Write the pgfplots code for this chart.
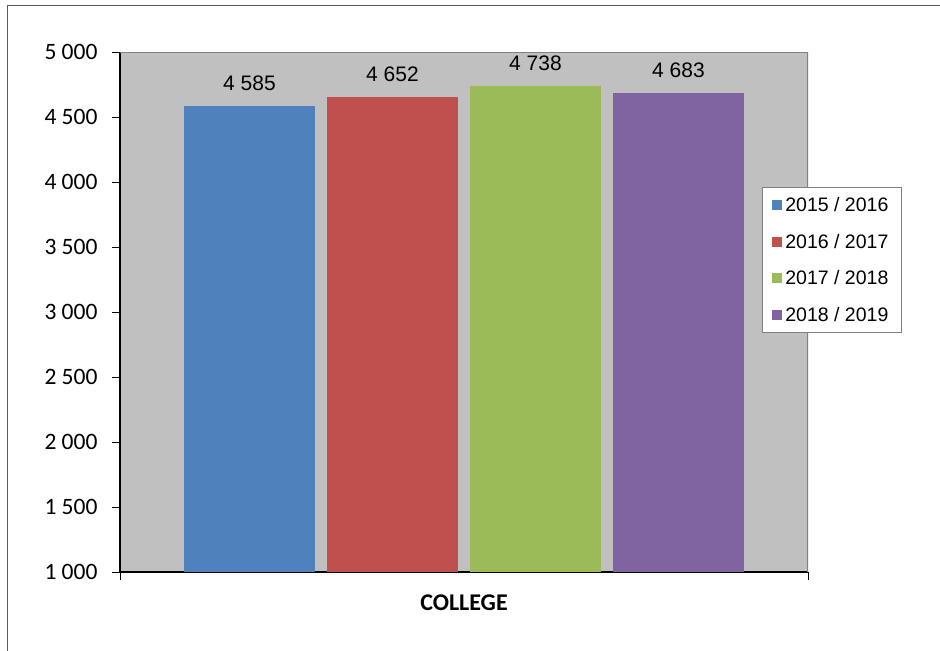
\documentclass[border=0pt]{standalone}
\usepackage{pgfplots}
\pgfplotsset{compat=1.18}
\usepackage{fontspec}
\setmainfont{Liberation Sans}
\newfontfamily\calfont{Carlito}
\definecolor{cblue}{HTML}{4F81BD}
\definecolor{cred}{HTML}{C0504D}
\definecolor{cgreen}{HTML}{9BBB59}
\definecolor{cpurple}{HTML}{8064A2}
\definecolor{plotbg}{HTML}{C0C0C0}
\definecolor{frame}{HTML}{595959}
\definecolor{pborder}{HTML}{808080}
\begin{document}
\begin{tikzpicture}
\useasboundingbox (0bp,0bp) rectangle (940bp,-651bp);
\draw[frame, line width=1.3bp] (7.5bp,-652bp) -- (7.5bp,-5.5bp) -- (941bp,-5.5bp);
\begin{axis}[
  at={(120bp,-572bp)}, anchor=south west,
  scale only axis, width=688bp, height=520bp,
  xmin=0, xmax=688, ymin=1000, ymax=5000,
  axis background/.style={fill=plotbg},
  axis x line*=bottom, axis y line*=left,
  axis line style={-, black, line width=1.2bp},
  xtick={0,688}, xticklabels={,},
  ytick={1000,1500,...,5000},
  yticklabels={1 000,1 500,2 000,2 500,3 000,3 500,4 000,4 500,5 000},
  yticklabel style={font=\calfont\fontsize{23.5bp}{27bp}\selectfont, xshift=-11bp},
  tick align=outside, major tick length=8bp,
  tick style={black, line width=1bp},
  /pgf/number format/assume math mode=true,
  /pgf/number format/1000 sep={\ },
  nodes near coords style={font=\fontsize{21bp}{25bp}\selectfont, yshift=12bp, black},
  legend style={at={(0.9331,0.7404)}, anchor=north west, draw=pborder, fill=white,
    font=\fontsize{19.5bp}{22bp}\selectfont, inner xsep=10bp, inner ysep=8bp, row sep=17bp,
    line width=0.8bp, nodes={inner xsep=3bp}},
  legend cell align=left,
  legend image code/.code={\fill[#1] (0bp,-5bp) rectangle (10bp,5bp);},
]
\addplot[ybar, bar shift=0pt, bar width=131, fill=cblue, draw=none, nodes near coords] coordinates {(129.5,4585)};
\addlegendentry{2015 / 2016}
\addplot[ybar, bar shift=0pt, bar width=131, fill=cred, draw=none, nodes near coords] coordinates {(272.5,4652)};
\addlegendentry{2016 / 2017}
\addplot[ybar, bar shift=0pt, bar width=131, fill=cgreen, draw=none, nodes near coords] coordinates {(415.5,4738)};
\addlegendentry{2017 / 2018}
\addplot[ybar, bar shift=0pt, bar width=131, fill=cpurple, draw=none, nodes near coords] coordinates {(558.5,4683)};
\addlegendentry{2018 / 2019}
\draw[pborder, line width=2.5bp] (rel axis cs:0,1) -- (rel axis cs:1,1) -- (rel axis cs:1,0);
\end{axis}
\node[font=\calfont\bfseries\fontsize{24bp}{28bp}\selectfont] at (464bp,-603bp) {COLLEGE};
\end{tikzpicture}
\end{document}
